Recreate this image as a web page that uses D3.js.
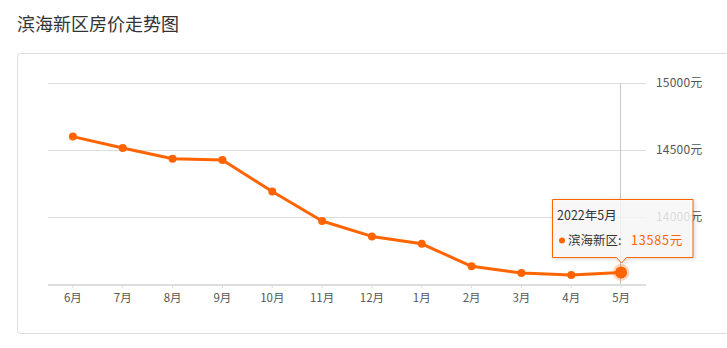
<!DOCTYPE html>
<html>
<head>
<meta charset="utf-8">
<script src="https://cdn.jsdelivr.net/npm/d3@7"></script>
<style>
  body { margin: 0; background: #fff; font-family: "Noto Sans CJK SC", "Noto Sans", sans-serif; }
  svg { display: block; }
</style>
</head>
<body>
<div id="chart"></div>
<script>
// data
const months = ["6月", "7月", "8月", "9月", "10月", "11月", "12月", "1月", "2月", "3月", "4月", "5月"];
const prices = [14600, 14515, 14435, 14425, 14190, 13970, 13855, 13800, 13632, 13582, 13567, 13585];
const yTicks = [14000, 14500, 15000];
const seriesName = "滨海新区";
const tipTitle = "2022年5月";
const activeIndex = 11;

const width = 727, height = 348;
const orange = "#ff6400";

const svg = d3.select("#chart").append("svg")
    .attr("width", width)
    .attr("height", height);

// title
svg.append("text")
    .attr("x", 17)
    .attr("y", 31)
    .style("font-size", "18px")
    .style("fill", "#333")
    .text("滨海新区房价走势图");

// panel
svg.append("rect")
    .attr("x", 17.5).attr("y", 53.5)
    .attr("width", 720).attr("height", 280)
    .attr("rx", 3)
    .attr("fill", "none")
    .attr("stroke", "#ddd");

const x = d3.scaleBand()
    .domain(months)
    .range([48, 646]);

const y = d3.scaleLinear()
    .domain([13500, 15000])
    .range([284, 83]);

const cx = d => x(d) + x.bandwidth() / 2;

// gridlines
svg.append("g")
  .selectAll("line")
  .data(yTicks)
  .enter()
  .append("line")
    .attr("x1", 48).attr("x2", 646)
    .attr("y1", d => Math.round(y(d)) + 0.5)
    .attr("y2", d => Math.round(y(d)) + 0.5)
    .attr("stroke", "#ddd");

// right axis labels
const yAxis = svg.append("g")
    .attr("transform", "translate(650,0)")
    .call(d3.axisRight(y).tickValues(yTicks).tickSize(0).tickPadding(6).tickFormat(d => d + "元"));
yAxis.select(".domain").remove();
yAxis.selectAll("text")
    .style("font-family", "\"Noto Sans CJK SC\", sans-serif")
    .style("font-size", "12px")
    .style("letter-spacing", "0.2px")
    .style("fill", "#555");

// crosshair
svg.append("line")
    .attr("x1", Math.round(cx(months[activeIndex])) - 0.5)
    .attr("x2", Math.round(cx(months[activeIndex])) - 0.5)
    .attr("y1", 83).attr("y2", 284)
    .attr("stroke", "#c8c8c8");

// x axis
const xAxis = svg.append("g")
    .attr("transform", "translate(0,285)")
    .call(d3.axisBottom(x).tickSize(3).tickPadding(6));
xAxis.select(".domain")
    .attr("stroke", "#ddd")
    .attr("stroke-width", 2)
    .attr("d", "M48,0H646");
xAxis.selectAll(".tick line").attr("stroke", "#ddd");
xAxis.selectAll("text")
    .style("font-family", "\"Noto Sans CJK SC\", sans-serif")
    .style("font-size", "11.5px")
    .style("fill", "#555");

// line
const line = d3.line()
    .x((d, i) => cx(months[i]))
    .y(d => y(d));

svg.append("path")
    .datum(prices)
    .attr("d", line)
    .attr("fill", "none")
    .attr("stroke", orange)
    .attr("stroke-width", 3)
    .attr("stroke-linejoin", "round");

svg.append("g")
  .selectAll("circle")
  .data(prices)
  .enter()
  .append("circle")
    .attr("cx", (d, i) => cx(months[i]))
    .attr("cy", d => y(d))
    .attr("r", (d, i) => i === activeIndex ? 0 : 4)
    .attr("fill", orange);

// highlighted point
const ax = cx(months[activeIndex]), ay = y(prices[activeIndex]);
svg.append("circle")
    .attr("cx", ax).attr("cy", ay).attr("r", 8.5)
    .attr("fill", orange).attr("fill-opacity", 0.25);
svg.append("circle")
    .attr("cx", ax).attr("cy", ay).attr("r", 6)
    .attr("fill", orange);

// tooltip
const tl = 552, tr = 693, tt = 199.5, tb = 257.5, tipX = Math.round(ax) + 0.5;
const tip = svg.append("g");
tip.append("path")
    .attr("d", `M${tl + 0.5},${tt} H${tr} V${tb} H${tipX + 5} L${tipX},${tb + 5.5} L${tipX - 5},${tb} H${tl + 0.5} Z`)
    .attr("fill", "#fff")
    .attr("fill-opacity", 0.8)
    .attr("stroke", orange)
    .attr("stroke-width", 1)
    .style("filter", "drop-shadow(1px 1px 2px rgba(0,0,0,0.2))");
tip.append("text")
    .attr("x", 557).attr("y", 220)
    .style("font-size", "12.5px")
    .style("fill", "#333")
    .text(tipTitle);
tip.append("circle")
    .attr("cx", 562).attr("cy", 240.5).attr("r", 3)
    .attr("fill", orange);
tip.append("text")
    .attr("x", 568).attr("y", 245)
    .style("font-size", "12.5px")
    .style("fill", "#333")
    .text(seriesName + ":");
tip.append("text")
    .attr("x", 683).attr("y", 245)
    .attr("text-anchor", "end")
    .style("font-size", "12.5px")
    .style("letter-spacing", "0.8px")
    .style("fill", orange)
    .text(prices[activeIndex] + "元");
</script>
</body>
</html>
